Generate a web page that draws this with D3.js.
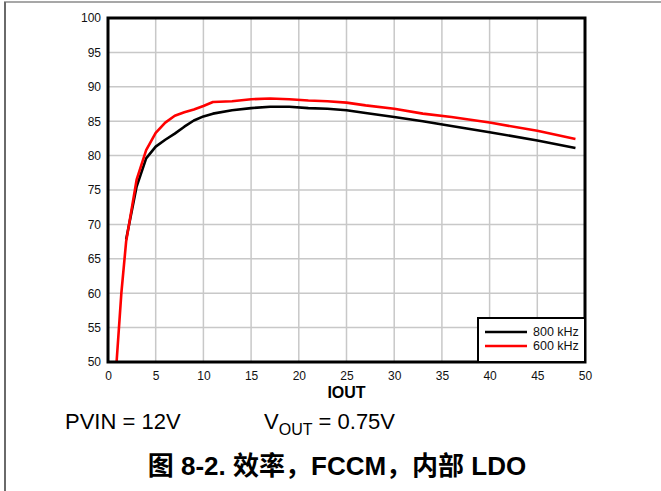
<!DOCTYPE html>
<html>
<head>
<meta charset="utf-8">
<script src="https://cdn.jsdelivr.net/npm/d3@7"></script>
<style>
  body { margin: 0; background: #fff; }
  text { font-family: "Liberation Sans", Arial, sans-serif; }
</style>
</head>
<body>
<div id="chart"></div>
<script>
// 效率曲线数据 (IOUT in A, efficiency in %)
var iout600 = [0.9, 1.4, 1.9, 3, 4, 5, 6, 7, 8, 9, 10, 11, 13, 15, 17, 19, 21, 23, 25, 27, 30, 33, 36, 40, 45, 49];
var eff600 = [50, 60, 67.5, 76.5, 80.8, 83.3, 84.8, 85.8, 86.3, 86.7, 87.2, 87.8, 87.9, 88.2, 88.3, 88.2, 88.0, 87.9, 87.7, 87.3, 86.8, 86.1, 85.6, 84.8, 83.6, 82.4];
var iout800 = [1.9, 3, 4, 5, 6, 7, 8, 9, 10, 11, 13, 15, 17, 19, 21, 23, 25, 27, 30, 33, 36, 40, 45, 49];
var eff800 = [67.8, 75.5, 79.6, 81.3, 82.3, 83.2, 84.2, 85.1, 85.7, 86.1, 86.6, 86.9, 87.1, 87.1, 86.9, 86.8, 86.6, 86.2, 85.6, 85.0, 84.3, 83.4, 82.2, 81.1];
var seriesNames = ['800 kHz', '600 kHz'];
var seriesColors = ['#000000', '#ff0000'];
var xTicks = [0, 5, 10, 15, 20, 25, 30, 35, 40, 45, 50];
var yTicks = [50, 55, 60, 65, 70, 75, 80, 85, 90, 95, 100];

var W = 661, H = 491;
var svg = d3.select('#chart').append('svg')
  .attr('width', W)
  .attr('height', H);

// 外框 (only top and left edges show)
svg.append('line').attr('x1', 4).attr('x2', W).attr('y1', 2).attr('y2', 2)
  .attr('stroke', '#8a8a8a').attr('stroke-width', 1.5);
svg.append('line').attr('x1', 5).attr('x2', 5).attr('y1', 2).attr('y2', H)
  .attr('stroke', '#6a6a6a').attr('stroke-width', 2);

var pLeft = 108, pRight = 585, pTop = 18, pBottom = 362;
var x = d3.scaleLinear().domain([0, 50]).range([pLeft, pRight]);
var y = d3.scaleLinear().domain([50, 100]).range([pBottom, pTop]);

// 网格
var grid = svg.append('g');
grid.selectAll('.gx').data(xTicks.slice(1, -1)).enter().append('line')
  .attr('x1', d => x(d)).attr('x2', d => x(d))
  .attr('y1', pTop).attr('y2', pBottom)
  .attr('stroke', '#c8c8c8').attr('stroke-width', 1.5);
grid.selectAll('.gy').data(yTicks.slice(1, -1)).enter().append('line')
  .attr('x1', pLeft).attr('x2', pRight)
  .attr('y1', d => y(d)).attr('y2', d => y(d))
  .attr('stroke', '#c8c8c8').attr('stroke-width', 1.5);

// 坐标轴刻度文字
var xAxis = svg.append('g').attr('transform', 'translate(0,' + pBottom + ')')
  .call(d3.axisBottom(x).tickValues(xTicks).tickSize(0).tickPadding(9));
var yAxis = svg.append('g').attr('transform', 'translate(' + pLeft + ',0)')
  .call(d3.axisLeft(y).tickValues(yTicks).tickSize(0).tickPadding(7));
[xAxis, yAxis].forEach(function(a) {
  a.select('.domain').remove();
  a.selectAll('text').attr('font-size', 12).attr('fill', '#111')
    .style('font-family', '"Liberation Sans", Arial, sans-serif');
});

// 曲线
var line = d3.line()
  .x(d => x(d[0]))
  .y(d => y(d[1]));
var curves = [d3.zip(iout800, eff800), d3.zip(iout600, eff600)];
svg.append('g').selectAll('path').data(curves).enter().append('path')
  .attr('d', line)
  .attr('fill', 'none')
  .attr('stroke', (d, i) => seriesColors[i])
  .attr('stroke-width', 2.6)
  .attr('stroke-linejoin', 'round');

// 图框
svg.append('rect')
  .attr('x', pLeft).attr('y', pTop)
  .attr('width', pRight - pLeft).attr('height', pBottom - pTop)
  .attr('fill', 'none').attr('stroke', '#000').attr('stroke-width', 3);

// 图例
var lg = svg.append('g').attr('transform', 'translate(478,318)');
lg.append('rect').attr('width', pRight - 478).attr('height', pBottom - 318)
  .attr('fill', '#fff').attr('stroke', '#000').attr('stroke-width', 2);
seriesNames.forEach(function(name, i) {
  lg.append('line').attr('x1', 7).attr('x2', 49)
    .attr('y1', 14 + i * 14).attr('y2', 14 + i * 14)
    .attr('stroke', seriesColors[i]).attr('stroke-width', 2.6);
  lg.append('text').attr('x', 55).attr('y', 18 + i * 14)
    .attr('font-size', 12.5).attr('fill', '#111').text(name);
});

// 轴标题
svg.append('text').attr('x', x(25)).attr('y', 398)
  .attr('text-anchor', 'middle').attr('font-size', 16).attr('font-weight', 'bold')
  .text('IOUT');

// 条件说明
svg.append('text').attr('x', 65).attr('y', 429).attr('font-size', 22)
  .text('PVIN = 12V');
var vout = svg.append('text').attr('x', 264).attr('y', 429).attr('font-size', 22);
vout.append('tspan').text('V');
vout.append('tspan').attr('dy', 6).attr('font-size', 16).text('OUT');
vout.append('tspan').attr('dy', -6).text(' = 0.75V');

// 图标题
svg.append('text').attr('x', 337).attr('y', 475)
  .attr('text-anchor', 'middle').attr('font-size', 26).attr('font-weight', 'bold')
  .style('font-family', '"Liberation Sans", "Noto Sans CJK SC", sans-serif')
  .text('图 8-2. 效率，FCCM，内部 LDO');
</script>
</body>
</html>
